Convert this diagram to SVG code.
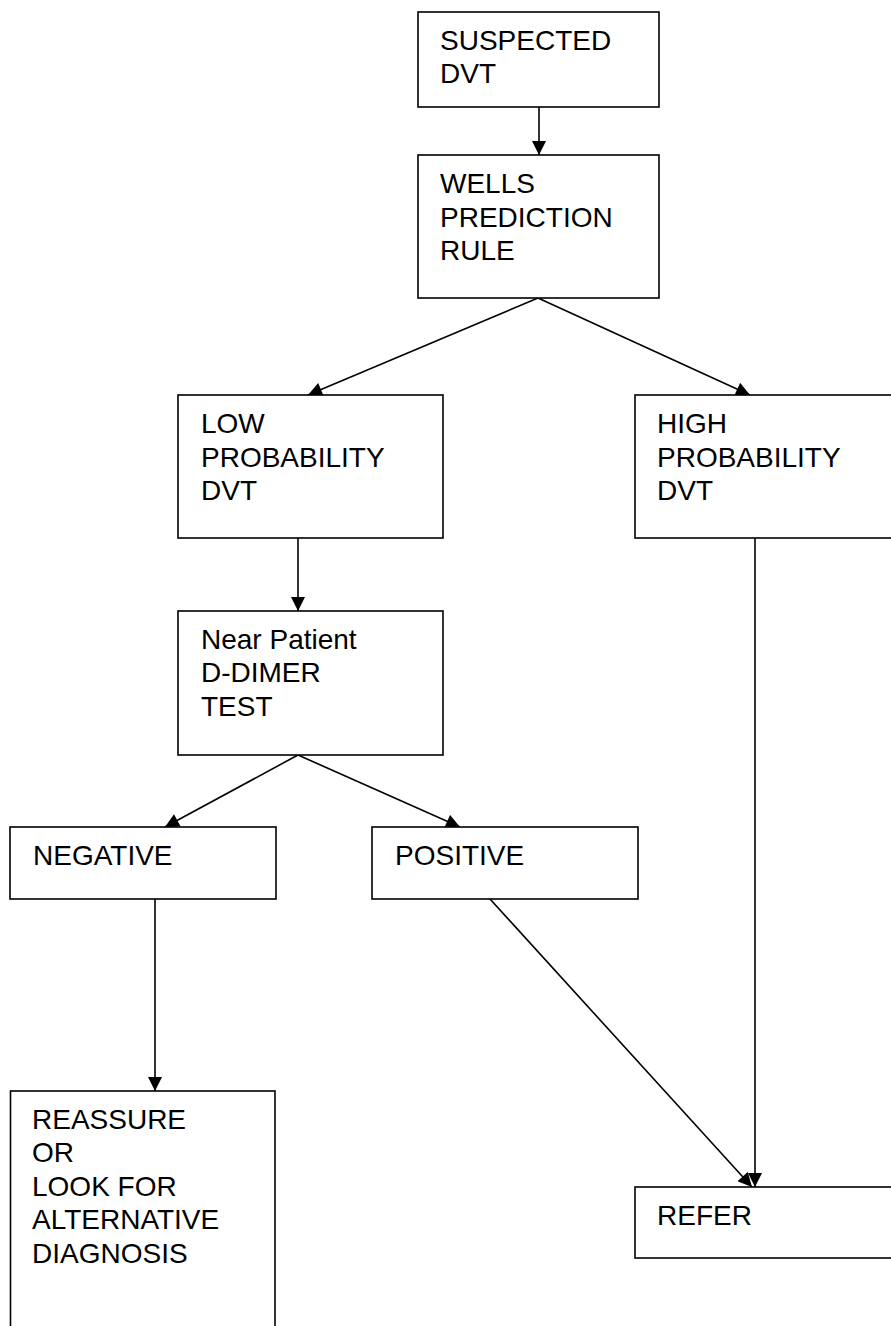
<svg xmlns="http://www.w3.org/2000/svg" width="891" height="1326" viewBox="0 0 891 1326">
<style>
  .box { fill: #ffffff; stroke: #000000; stroke-width: 1.6; }
  .lbl { font-family: "Liberation Sans", Arial, sans-serif; font-size: 28px; fill: #000000; }
  .conn { stroke: #000000; stroke-width: 1.6; fill: none; marker-end: url(#arrow); }
</style>
<defs>
  <marker id="arrow" viewBox="0 0 10 10" refX="10" refY="5" markerWidth="15" markerHeight="14" markerUnits="userSpaceOnUse" orient="auto">
    <path d="M0,0 L10,5 L0,10 z" fill="#000000"/>
  </marker>
</defs>
<rect width="891" height="1326" fill="#ffffff"/>
<g id="connectors">
  <line class="conn" x1="539" y1="107" x2="539" y2="155"/>
  <line class="conn" x1="538" y1="298" x2="308" y2="395"/>
  <line class="conn" x1="538" y1="298" x2="750" y2="395"/>
  <line class="conn" x1="298" y1="538" x2="298" y2="611"/>
  <line class="conn" x1="298" y1="755" x2="165" y2="827"/>
  <line class="conn" x1="298" y1="755" x2="460" y2="827"/>
  <line class="conn" x1="155" y1="899" x2="155" y2="1091"/>
  <line class="conn" x1="490" y1="899" x2="752" y2="1187"/>
  <line class="conn" x1="755" y1="538" x2="755" y2="1187"/>
</g>
<g id="suspected">
  <rect class="box" x="418" y="12" width="241" height="95"/>
  <text class="lbl" x="440"><tspan x="440" y="49.5">SUSPECTED</tspan><tspan x="440" y="83">DVT</tspan></text>
</g>
<g id="wells">
  <rect class="box" x="418" y="155" width="241" height="143"/>
  <text class="lbl"><tspan x="440" y="193">WELLS</tspan><tspan x="440" y="226.5">PREDICTION</tspan><tspan x="440" y="260">RULE</tspan></text>
</g>
<g id="low">
  <rect class="box" x="178" y="395" width="265" height="143"/>
  <text class="lbl"><tspan x="201" y="433">LOW</tspan><tspan x="201" y="466.5">PROBABILITY</tspan><tspan x="201" y="500">DVT</tspan></text>
</g>
<g id="high">
  <rect class="box" x="635" y="395" width="270" height="143"/>
  <text class="lbl"><tspan x="657" y="433">HIGH</tspan><tspan x="657" y="466.5">PROBABILITY</tspan><tspan x="657" y="500">DVT</tspan></text>
</g>
<g id="ddimer">
  <rect class="box" x="178" y="611" width="265" height="144"/>
  <text class="lbl"><tspan x="201" y="648.5">Near Patient</tspan><tspan x="201" y="682">D-DIMER</tspan><tspan x="201" y="715.5">TEST</tspan></text>
</g>
<g id="negative">
  <rect class="box" x="10" y="827" width="266" height="72"/>
  <text class="lbl" x="33" y="864.5">NEGATIVE</text>
</g>
<g id="positive">
  <rect class="box" x="372" y="827" width="266" height="72"/>
  <text class="lbl" x="395" y="864.5">POSITIVE</text>
</g>
<g id="reassure">
  <rect class="box" x="10.5" y="1091" width="264.5" height="250"/>
  <text class="lbl"><tspan x="32" y="1128.5">REASSURE</tspan><tspan x="32" y="1162">OR</tspan><tspan x="32" y="1195.5">LOOK FOR</tspan><tspan x="32" y="1229">ALTERNATIVE</tspan><tspan x="32" y="1262.5">DIAGNOSIS</tspan></text>
</g>
<g id="refer">
  <rect class="box" x="635" y="1187" width="270" height="71"/>
  <text class="lbl" x="657" y="1225">REFER</text>
</g>
</svg>
